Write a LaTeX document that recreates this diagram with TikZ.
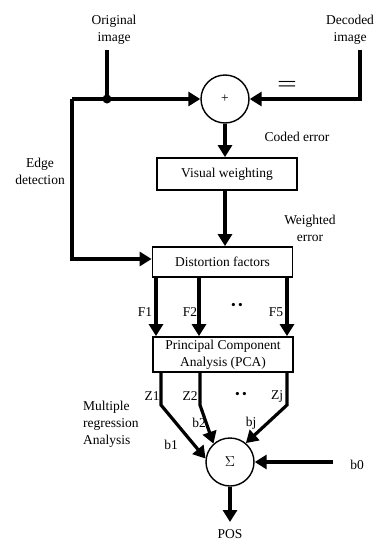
\documentclass[tikz,border=0pt]{standalone}
\usepackage{fontspec}
\setmainfont{Liberation Serif}
\usepackage{graphicx}
\usetikzlibrary{arrows.meta}
\tikzset{
  arr/.style={line width=3.2pt,-{Triangle[length=12pt,width=14pt]}},
  wire/.style={line width=3.2pt},
  blockbox/.style={draw,line width=1.8pt,minimum width=140pt,inner sep=1pt},
  sumnode/.style={draw,circle,line width=1.4pt,minimum size=48pt,inner sep=0pt},
  lbl/.style={align=center,inner sep=0pt}
}
\begin{document}
\begin{tikzpicture}[x=1pt,y=-1pt,font=\fontsize{13.5}{17}\selectfont]
\useasboundingbox (0,0) rectangle (378,541);

% inputs and difference
\node[lbl] (orig) at (114,30) {Original\\image};
\node[lbl] (dec) at (350,30) {Decoded\\image};
\node[sumnode] (plus) at (225,99) {+};
\coordinate (origtop) at (107,50);
\coordinate (junc) at (107,99);
\coordinate (edgecorner) at (72,99);
\coordinate (edgebottom) at (72,259);
\coordinate (dectop) at (360,50);
\coordinate (deccorner) at (360,99);
\node[lbl] (eq) at (287,86) {\fontsize{22}{22}\selectfont\scalebox{1.6}[1]{=}};

\draw[wire] (origtop) -- (junc);
\fill (junc) circle (4.5);
\draw[arr] (edgecorner) -- (plus.west);
\draw[arr] (dectop) -- (deccorner) -- (plus.east);

% weighting chain
\node[blockbox,minimum height=32pt] (visw) at (227,174) {Visual weighting};
\node[blockbox,minimum height=30pt] (dist) at (222.5,262) {Distortion factors};
\node[blockbox,minimum height=35pt,align=center] (pca) at (223,354.5)
  {Principal Component\\Analysis (PCA)};
\node[sumnode] (sig) at (230,462) {$\Sigma$};

\draw[arr] (plus.south) -- (visw.north -| plus.south);
\draw[arr] (visw.south -| 225,0) -- (dist.north -| 225,0);
\draw[arr] (edgecorner) -- (edgebottom) -- (dist.west |- edgebottom);

\node[lbl] (coded) at (297,137) {Coded error};
\node[lbl] (weighted) at (310,228) {Weighted\\error};
\node[lbl] (edge) at (40,171) {Edge\\detection};

% factors
\foreach \x/\name in {156/F1,199/F2,287/F5}
  \draw[arr] (\x,0 |- dist.south) -- (\x,0 |- pca.north);
\node[lbl] (f1) at (145,312) {F1};
\node[lbl] (f2) at (190,312) {F2};
\node[lbl] (f5) at (276,312) {F5};
\node[lbl] (fdots) at (237,306) {\textbullet\,\textbullet};

% regression
\coordinate (z1) at (161,405);
\coordinate (z2) at (200,405);
\coordinate (zj) at (287,405);
\draw[arr] (z1 |- pca.south) -- (z1) -- (sig.172);
\draw[arr] (z2 |- pca.south) -- (z2) -- (sig.132);
\draw[arr] (zj |- pca.south) -- (zj) -- (sig.50);
\node[lbl] (lz1) at (152,396) {Z1};
\node[lbl] (lz2) at (190,396) {Z2};
\node[lbl] (lzj) at (277,396) {Zj};
\node[lbl] (zdots) at (241,395) {\textbullet\,\textbullet};
\node[lbl] (lb1) at (171,445) {b1};
\node[lbl] (lb2) at (199,423) {b2};
\node[lbl] (lbj) at (251,423) {bj};
\node[lbl,align=left,anchor=west] (mra) at (83,424)
  {Multiple\\regression\\Analysis};

\coordinate (b0end) at (333,462);
\node[lbl] (b0) at (357,465) {b0};
\draw[arr] (b0end) -- (sig.east);
\coordinate (posend) at (230,522);
\draw[arr] (sig.south) -- (posend);
\node[lbl] (pos) at (230,534) {POS};
\end{tikzpicture}
\end{document}
